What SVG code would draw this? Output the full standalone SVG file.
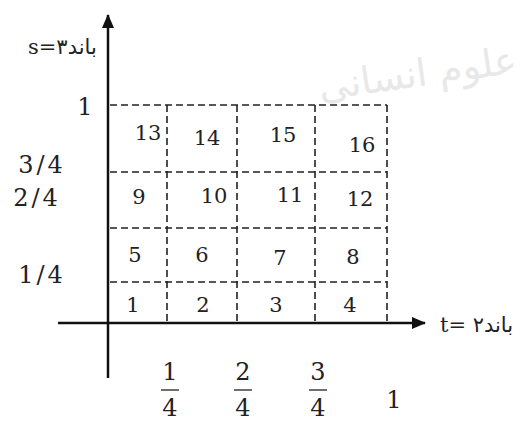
<svg xmlns="http://www.w3.org/2000/svg" width="521" height="423" viewBox="0 0 521 423">
<style>
.axis{stroke:#111;stroke-width:2.5;fill:none}
.grid{stroke:#222;stroke-width:1.6;stroke-dasharray:7 4;fill:none}
.serif{font-family:"DejaVu Serif","Liberation Serif",serif}
.num{font-size:21px;fill:#222;text-anchor:middle;dominant-baseline:central}
.lab{font-size:24px;fill:#222;text-anchor:middle;dominant-baseline:central}
.ar{font-family:"DejaVu Serif","DejaVu Sans",serif;font-size:21px;fill:#222}
.wm{font-family:"DejaVu Sans",sans-serif;font-size:38px;fill:#e8e8e8}
</style>
<defs>
<marker id="arr" markerWidth="14" markerHeight="12" refX="13" refY="6" orient="auto" markerUnits="userSpaceOnUse">
<path d="M0,0 L14,6 L0,12 Z" fill="#111"/>
</marker>
</defs>
<rect width="521" height="423" fill="#fff"/>
<text class="wm" x="517" y="82" text-anchor="end" transform="rotate(-8 450 70)">علوم انسانی</text>
<g id="connectors">
<line class="axis" x1="108" y1="378" x2="108" y2="15" marker-end="url(#arr)"/>
<line class="axis" x1="58" y1="323" x2="425" y2="323" marker-end="url(#arr)"/>
</g>
<g id="grid">
<line class="grid" x1="110" y1="105" x2="387" y2="105"/>
<line class="grid" x1="110" y1="172" x2="387" y2="172"/>
<line class="grid" x1="110" y1="228" x2="387" y2="228"/>
<line class="grid" x1="110" y1="282" x2="387" y2="282"/>
<line class="grid" x1="167" y1="105" x2="167" y2="323"/>
<line class="grid" x1="237" y1="105" x2="237" y2="323"/>
<line class="grid" x1="315" y1="105" x2="315" y2="323"/>
<line class="grid" x1="387" y1="105" x2="387" y2="323"/>
</g>
<g id="cells" class="serif">
<text class="num" x="148" y="133">13</text>
<text class="num" x="207" y="138">14</text>
<text class="num" x="283" y="135">15</text>
<text class="num" x="362" y="145">16</text>
<text class="num" x="139" y="197">9</text>
<text class="num" x="214" y="196">10</text>
<text class="num" x="290" y="195">11</text>
<text class="num" x="360" y="199">12</text>
<text class="num" x="135" y="255">5</text>
<text class="num" x="202" y="255">6</text>
<text class="num" x="280" y="258">7</text>
<text class="num" x="353" y="257">8</text>
<text class="num" x="133" y="305">1</text>
<text class="num" x="203" y="305">2</text>
<text class="num" x="276" y="305">3</text>
<text class="num" x="350" y="305">4</text>
</g>
<g id="s-labels" class="serif">
<text class="lab" x="85" y="107">1</text>
<text class="lab" x="42" y="165" letter-spacing="3">3/4</text>
<text class="lab" x="37" y="198" letter-spacing="3">2/4</text>
<text class="lab" x="42" y="275" letter-spacing="3">1/4</text>
</g>
<g id="t-labels" class="serif">
<text class="lab" x="170" y="372">1</text>
<line x1="161" y1="390" x2="179" y2="390" stroke="#222" stroke-width="1.3"/>
<text class="lab" x="170" y="408">4</text>
<text class="lab" x="243" y="372">2</text>
<line x1="234" y1="390" x2="252" y2="390" stroke="#222" stroke-width="1.3"/>
<text class="lab" x="243" y="408">4</text>
<text class="lab" x="318" y="372">3</text>
<line x1="309" y1="390" x2="327" y2="390" stroke="#222" stroke-width="1.3"/>
<text class="lab" x="318" y="408">4</text>
<text class="lab" x="394" y="400">1</text>
</g>
<g id="axis-labels">
<text class="ar" x="28" y="54">s=۳باند</text>
<text class="ar" x="440" y="332">t= ۲باند</text>
</g>
</svg>
